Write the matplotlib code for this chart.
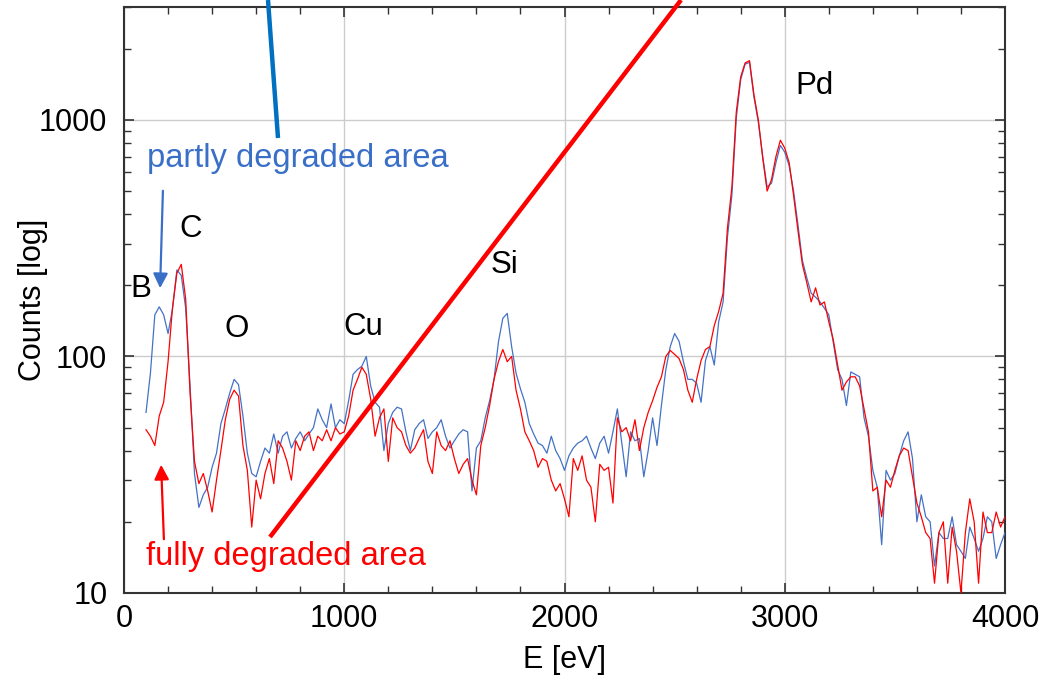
import numpy as np
import matplotlib
matplotlib.use("Agg")
import matplotlib.pyplot as plt
from matplotlib.lines import Line2D
from matplotlib.patches import FancyArrowPatch
from matplotlib.ticker import FixedLocator, NullFormatter, FixedFormatter, MultipleLocator

plt.rcParams['font.family'] = ['Liberation Sans', 'DejaVu Sans']

# ---------------- data ----------------
energy = list(range(100, 4001, 20))  # eV

partly_degraded = [
    58, 85, 150, 162, 150, 125, 158, 232, 220, 160,
    75, 32, 23, 26, 28, 34, 39, 52, 60, 70,
    80, 76, 56, 39, 32, 31, 36, 41, 39, 47,
    39, 46, 48, 41, 45, 48, 44, 47, 50, 60,
    54, 50, 63, 50, 54, 52, 65, 84, 88, 91,
    100, 75, 64, 61, 40, 52, 58, 61, 60, 48,
    40, 49, 52, 54, 45, 48, 50, 54, 46, 41,
    44, 47, 49, 48, 27, 41, 44, 55, 65, 80,
    115, 145, 152, 110, 85, 73, 64, 52, 47, 43,
    42, 39, 46, 40, 37, 33, 38, 41, 43, 44,
    46, 41, 37, 43, 46, 39, 48, 60, 43, 31,
    48, 44, 45, 31, 40, 55, 42, 62, 88, 110,
    125, 116, 95, 80, 80, 77, 64, 96, 110, 92,
    140, 170, 320, 480, 1020, 1480, 1720, 1750, 1250, 980,
    700, 520, 540, 660, 780, 730, 640, 500, 360, 255,
    215, 185, 178, 170, 160, 150, 115, 88, 80, 62,
    86, 84, 82, 55, 46, 33, 28, 16, 33, 30,
    32, 38, 44, 48, 37, 20, 26, 21, 20, 13,
    18, 17, 17, 21, 16, 15, 14, 19, 17, 15,
    17, 21, 20, 14, 16, 18,
]

fully_degraded = [
    49, 46, 42, 56, 64, 95, 160, 225, 245, 175,
    70, 36, 29, 32, 27, 22, 30, 40, 54, 66,
    72, 68, 42, 33, 19, 30, 25, 32, 37, 29,
    44, 41, 36, 30, 44, 40, 46, 48, 40, 46,
    44, 49, 44, 50, 47, 48, 56, 72, 80, 90,
    84, 66, 46, 55, 60, 36, 55, 50, 48, 42,
    39, 41, 45, 49, 36, 32, 48, 42, 40, 44,
    37, 32, 35, 37, 30, 26, 42, 50, 62, 80,
    95, 107, 95, 100, 72, 60, 48, 44, 40, 34,
    37, 36, 30, 27, 29, 25, 21, 37, 33, 38,
    30, 28, 20, 35, 33, 34, 24, 55, 48, 50,
    44, 54, 40, 50, 58, 65, 74, 82, 100, 106,
    102, 98, 88, 72, 64, 80, 96, 107, 110, 135,
    155, 185, 350, 520, 1080, 1520, 1740, 1780, 1280, 1000,
    690, 500, 560, 700, 820, 760, 660, 480, 340, 245,
    205, 170, 195, 165, 170, 140, 118, 92, 72, 78,
    82, 82, 75, 60, 48, 27, 28, 21, 30, 28,
    33, 38, 41, 40, 31, 24, 21, 18, 17, 11,
    18, 20, 11, 19, 15, 10, 18, 25, 20, 11,
    22, 18, 18, 22, 19, 21,
]

element_labels = ["B", "C", "O", "Cu", "Si", "Pd"]
x_ticks = [0, 1000, 2000, 3000, 4000]
y_ticks = [10, 100, 1000]

BLUE = "#4472C4"
RED = "#FF0000"

W, H = 1061, 681
fig = plt.figure(figsize=(W / 100, H / 100), dpi=100)
ax = fig.add_axes([124 / W, 1 - 593 / H, (1005 - 124) / W, (593 - 7) / H])

ax.plot(energy, partly_degraded, color=BLUE, lw=0.9, zorder=3)
ax.plot(energy, fully_degraded, color=RED, lw=0.9, zorder=4)

ax.set_yscale("log")
ax.set_xlim(0, 4000)
ax.set_ylim(10, 3000)

ax.xaxis.set_major_locator(FixedLocator(x_ticks))
ax.xaxis.set_minor_locator(MultipleLocator(200))
ax.yaxis.set_major_locator(FixedLocator(y_ticks))
ax.yaxis.set_major_formatter(FixedFormatter([str(v) for v in y_ticks]))
minor_y = [m * 10 ** d for d in (1, 2, 3) for m in range(2, 10) if m * 10 ** d <= 3000]
ax.yaxis.set_minor_locator(FixedLocator(minor_y))
ax.yaxis.set_minor_formatter(NullFormatter())

ax.grid(True, which="major", color="#cccccc", lw=1.0)
ax.set_axisbelow(True)
ax.tick_params(which="both", direction="in", top=True, right=True, colors="#333333",
               labelcolor="black", labelsize=22)
ax.tick_params(which="major", length=7, width=1.2)
ax.tick_params(which="minor", length=5, width=1.0)
ax.tick_params(axis="x", pad=8)
ax.tick_params(axis="y", pad=12)
for s in ax.spines.values():
    s.set_color("#333333")
    s.set_linewidth(1.5)

ax.set_xlabel("E [eV]", fontsize=22)
ax.set_ylabel("Counts [log]", fontsize=22)
ax.xaxis.set_label_coords(0.5, (593 - 660) / 586, transform=ax.transAxes)
ax.yaxis.set_label_coords((33 - 124) / 881, 0.5, transform=ax.transAxes)
ax.xaxis.label.set_va("center")
ax.yaxis.label.set_va("center")


def fc(px, py):
    return (px / W, 1 - py / H)


# element labels
label_pos = [(141, 289), (191, 229), (237, 329), (363, 327), (505, 265), (814, 86)]
for lab, (px, py) in zip(element_labels, label_pos):
    fig.text(*fc(px, py), lab, fontsize=22.5, ha="center", va="center", color="black")

fig.text(*fc(298, 158), "partly degraded area", fontsize=23.5, ha="center", va="center",
         color="#3A6FC8")
fig.text(*fc(286, 556), "fully degraded area", fontsize=23.5, ha="center", va="center",
         color=RED)

# thick pointer lines
fig.add_artist(Line2D([268 / W, 278 / W], [1, 1 - 138 / H], transform=fig.transFigure,
                      color="#0070C0", lw=3.2, solid_capstyle="butt"))
fig.add_artist(Line2D([270 / W, 681 / W], [1 - 537 / H, 1], transform=fig.transFigure,
                      color=RED, lw=3.2, solid_capstyle="butt"))

# arrows
fig.add_artist(FancyArrowPatch(fc(163, 188), fc(160, 291), transform=fig.transFigure,
                               arrowstyle="-|>", mutation_scale=22, lw=1.6, color="#3A6FC8"))
fig.add_artist(FancyArrowPatch(fc(164, 542), fc(161, 462), transform=fig.transFigure,
                               arrowstyle="-|>", mutation_scale=22, lw=1.6, color=RED))

fig.savefig("out.png", dpi=100)
